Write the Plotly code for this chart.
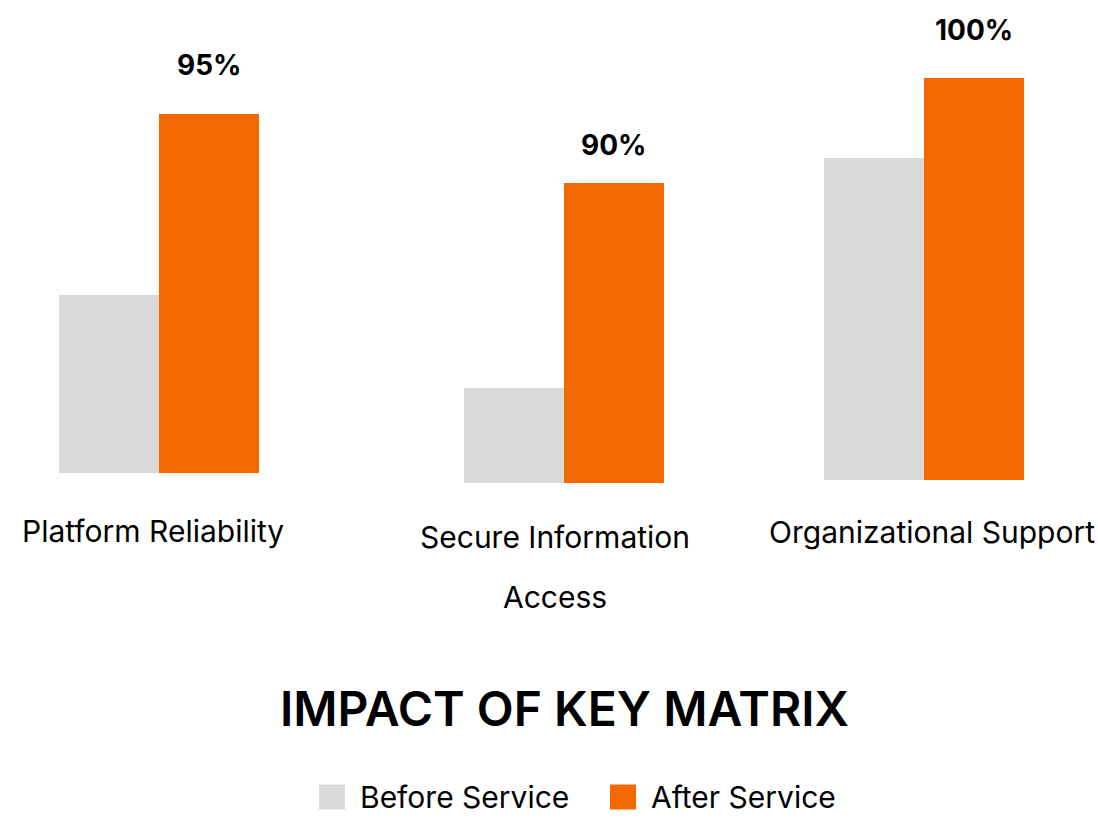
import plotly.graph_objects as go

# chart data
categories = ["Platform Reliability", "Secure Information<br>Access", "Organizational Support"]
series = ["Before Service", "After Service"]
before = [47, 28.5, 80]
after = [95, 90, 100]
value_labels = ["95%", "90%", "100%"]
title = "IMPACT OF KEY MATRIX"

W, H = 1098, 826
colors = ["#D9D9D9", "#F46800"]
FONT = "Inter"

# pixel layout per group: left, right, baseline, where 100 would be
group_px = [(59, 259, 473, 95), (464, 664, 483, 150), (824, 1024, 480, 78)]
label_y_px = [531, 537, 532]
label_dx = [-6, -9, 8]
pct_shift = [49, 38, 48]


def px(x=None, y=None):
    if x is not None:
        return x / W
    return 1 - y / H


fig = go.Figure()
annotations = []
layout_axes = {}

for i, cat in enumerate(categories):
    n = "" if i == 0 else str(i + 1)
    left, right, base, top = group_px[i]
    fig.add_trace(go.Bar(
        x=series,
        y=[before[i], after[i]],
        marker=dict(color=colors, line=dict(width=0)),
        width=1,
        showlegend=False,
        hoverinfo="x+y",
        xaxis="x" + n,
        yaxis="y" + n,
    ))
    layout_axes["xaxis" + n] = dict(domain=[px(x=left), px(x=right)], anchor="y" + n,
                                    range=[-0.5, 1.5], visible=False, fixedrange=True)
    layout_axes["yaxis" + n] = dict(domain=[px(y=base), px(y=top)], anchor="x" + n,
                                    range=[0, 100], visible=False, fixedrange=True)

    # value label above the "after" bar
    annotations.append(dict(
        xref="x" + n, yref="y" + n, x=series[1], y=after[i],
        text=value_labels[i], showarrow=False, yanchor="middle", yshift=pct_shift[i],
        font=dict(family=FONT, size=28, color="#000000", weight=700),
    ))

    # category label below the group, one line at a time
    for k, line in enumerate(cat.split("<br>")):
        annotations.append(dict(
            xref="x" + n + " domain", yref="paper", x=0.5, y=px(y=label_y_px[i]),
            text=line, showarrow=False, xanchor="center", yanchor="middle",
            xshift=label_dx[i], yshift=-60 * k,
            font=dict(family=FONT, size=30, color="#000000"),
        ))

# title
annotations.append(dict(
    xref="paper", yref="paper", x=px(x=564), y=px(y=708),
    text=title, showarrow=False, xanchor="center", yanchor="middle",
    font=dict(family=FONT, size=48, color="#000000", weight=600),
))

# legend: swatch + label
shapes = []
leg_x0, leg_y, sw, gap, step = 319, 797, 26, 13, 291
for j, name in enumerate(series):
    x0 = leg_x0 + j * step
    shapes.append(dict(type="rect", xref="paper", yref="paper",
                       x0=px(x=x0), x1=px(x=x0 + sw),
                       y0=px(y=leg_y + 12.5), y1=px(y=leg_y - 12.5),
                       fillcolor=colors[j], line=dict(width=0)))
    annotations.append(dict(
        xref="paper", yref="paper", x=px(x=x0 + sw + gap), y=px(y=leg_y),
        text=name, showarrow=False, xanchor="left", yanchor="middle",
        font=dict(family=FONT, size=30, color="#000000"),
    ))

fig.update_layout(
    width=W, height=H,
    margin=dict(l=0, r=0, t=0, b=0),
    paper_bgcolor="#FFFFFF",
    plot_bgcolor="rgba(0,0,0,0)",
    bargap=0,
    showlegend=False,
    annotations=annotations,
    shapes=shapes,
    font=dict(family=FONT),
    **layout_axes,
)

# drop the browser's default body margin so the figure sits at the page corner
fig.write_html("out.html", config={"displayModeBar": False},
               post_script="document.body.style.margin='0';")
